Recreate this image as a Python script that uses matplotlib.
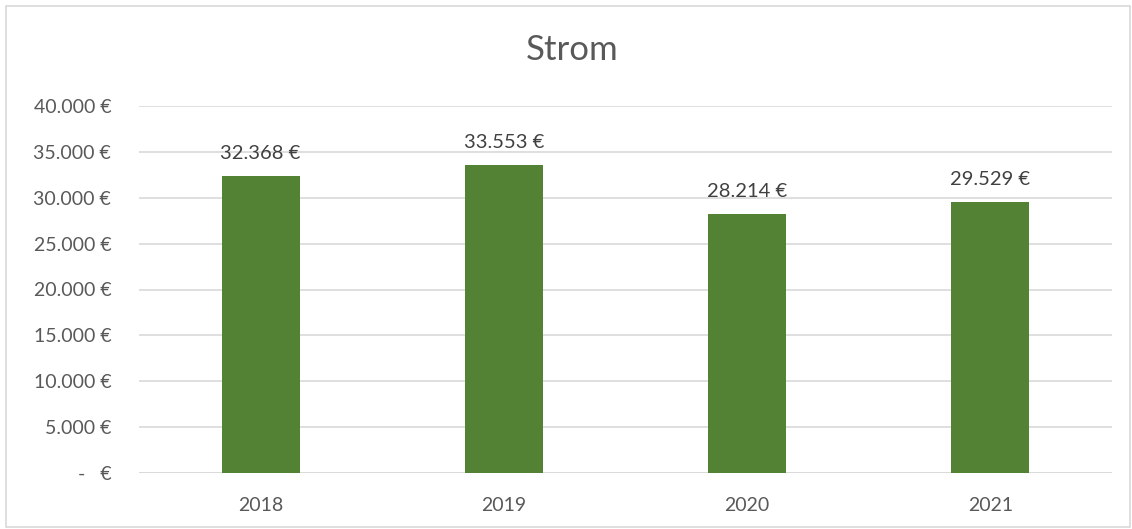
import matplotlib.pyplot as plt
from matplotlib.patches import Rectangle

years = ["2018", "2019", "2020", "2021"]
values = [32368, 33553, 28214, 29529]
yticks = [0, 5000, 10000, 15000, 20000, 25000, 30000, 35000, 40000]

def fmt(v):
    if v == 0:
        return "-   €"
    return f"{v:,.0f}".replace(",", ".") + " €"

plt.rcParams['font.family'] = ['Lato', 'DejaVu Sans']
TXT = "#595959"

fig = plt.figure(figsize=(11.32, 5.29), dpi=100)
fig.patches.append(Rectangle((6/1132, 2/529), 1124/1132, 521/529, transform=fig.transFigure,
                             fill=False, edgecolor="#d9d9d9", linewidth=1.2))
ax = fig.add_axes([139/1132, 1 - 473/529, 973/1132, 367/529])

x = list(range(len(years)))
bars = ax.bar(x, values, width=0.32, color="#548235", zorder=3)
for xi, v in zip(x, values):
    ax.annotate(fmt(v), (xi, v), xytext=(0, 10), textcoords="offset points",
                ha="center", va="bottom", fontsize=14.5, color="#404040")

ax.set_xlim(-0.5, len(years) - 0.5)
ax.set_ylim(0, 40000)
ax.set_yticks(yticks)
ax.set_yticklabels([fmt(v) for v in yticks])
ax.set_xticks(x)
ax.set_xticklabels(years)
ax.tick_params(axis="y", length=0, pad=20, labelsize=14, labelcolor=TXT)
ax.tick_params(axis="x", length=0, pad=17, labelsize=14, labelcolor=TXT)
ax.grid(axis="y", color="#d9d9d9", linewidth=1.2, zorder=0)
for s in ax.spines.values():
    s.set_visible(False)
ax.axhline(0, color="#d9d9d9", linewidth=1.2, zorder=2)

fig.text(572/1132, 1 - 50/529, "Strom", ha="center", va="center", fontsize=25, color=TXT)

fig.savefig("out.png", dpi=100)
